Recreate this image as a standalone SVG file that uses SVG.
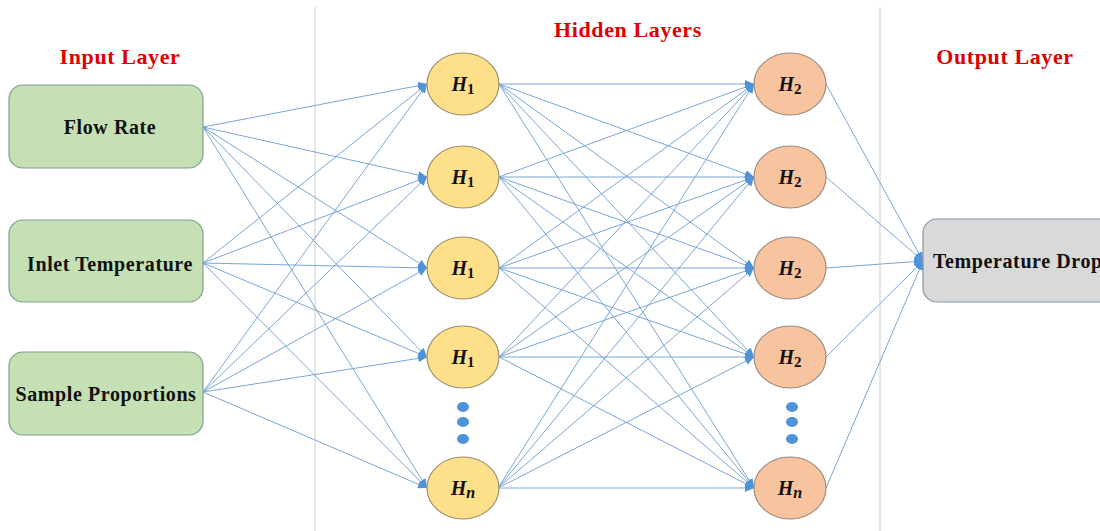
<svg xmlns="http://www.w3.org/2000/svg" width="1100" height="531" viewBox="0 0 1100 531">
<style>
.title{font-family:"Liberation Serif",serif;font-weight:bold;font-size:22px;letter-spacing:0.6px;fill:#e00000}
.lbl{font-family:"Liberation Serif",serif;font-weight:bold;font-size:20px;letter-spacing:0.6px;fill:#111}
.hn{font-family:"Liberation Serif",serif;font-weight:bold;font-style:italic;font-size:20px;fill:#111}
.in{fill:#c5e0b4;stroke:#7f9f8f;stroke-width:1.2}
.h1{fill:#ffe08a;stroke:#9a8f70;stroke-width:1.2}
.h2{fill:#f8c4a0;stroke:#9a8a80;stroke-width:1.2}
.out{fill:#d9d9d9;stroke:#8497b0;stroke-width:1.2}
.dot{fill:#4f93d8}
.sep{stroke:#dedede;stroke-width:1.5}
#connectors line{stroke:#7aa6d6;stroke-width:1;marker-end:url(#arr)}
</style>
<defs>
<marker id="arr" markerUnits="userSpaceOnUse" markerWidth="9" markerHeight="8" refX="9" refY="4" orient="auto">
<path d="M0,0 L9,4 L0,8 z" fill="#4f93d8"/>
</marker>
</defs>
<rect width="1100" height="531" fill="#fff"/>
<line class="sep" x1="315" y1="7" x2="315" y2="531"/>
<line class="sep" x1="880" y1="7" x2="880" y2="531"/>
<text class="title" x="120" y="64" text-anchor="middle">Input Layer</text>
<text class="title" x="628" y="37" text-anchor="middle">Hidden Layers</text>
<text class="title" x="1005" y="64" text-anchor="middle">Output Layer</text>
<g id="connectors">
<line x1="203" y1="127" x2="427" y2="84"/><line x1="203" y1="127" x2="427" y2="177"/><line x1="203" y1="127" x2="427" y2="268"/><line x1="203" y1="127" x2="427" y2="357"/><line x1="203" y1="127" x2="427" y2="488"/>
<line x1="203" y1="263" x2="427" y2="84"/><line x1="203" y1="263" x2="427" y2="177"/><line x1="203" y1="263" x2="427" y2="268"/><line x1="203" y1="263" x2="427" y2="357"/><line x1="203" y1="263" x2="427" y2="488"/>
<line x1="203" y1="392" x2="427" y2="84"/><line x1="203" y1="392" x2="427" y2="177"/><line x1="203" y1="392" x2="427" y2="268"/><line x1="203" y1="392" x2="427" y2="357"/><line x1="203" y1="392" x2="427" y2="488"/>
<line x1="499" y1="84" x2="754" y2="84"/><line x1="499" y1="84" x2="754" y2="177"/><line x1="499" y1="84" x2="754" y2="268"/><line x1="499" y1="84" x2="754" y2="357"/><line x1="499" y1="84" x2="754" y2="488"/>
<line x1="499" y1="177" x2="754" y2="84"/><line x1="499" y1="177" x2="754" y2="177"/><line x1="499" y1="177" x2="754" y2="268"/><line x1="499" y1="177" x2="754" y2="357"/><line x1="499" y1="177" x2="754" y2="488"/>
<line x1="499" y1="268" x2="754" y2="84"/><line x1="499" y1="268" x2="754" y2="177"/><line x1="499" y1="268" x2="754" y2="268"/><line x1="499" y1="268" x2="754" y2="357"/><line x1="499" y1="268" x2="754" y2="488"/>
<line x1="499" y1="357" x2="754" y2="84"/><line x1="499" y1="357" x2="754" y2="177"/><line x1="499" y1="357" x2="754" y2="268"/><line x1="499" y1="357" x2="754" y2="357"/><line x1="499" y1="357" x2="754" y2="488"/>
<line x1="498" y1="488" x2="754" y2="84"/><line x1="498" y1="488" x2="754" y2="177"/><line x1="498" y1="488" x2="754" y2="268"/><line x1="498" y1="488" x2="754" y2="357"/><line x1="498" y1="488" x2="754" y2="488"/>
<line x1="826" y1="84" x2="923" y2="261"/><line x1="826" y1="177" x2="923" y2="261"/><line x1="826" y1="268" x2="923" y2="261"/><line x1="826" y1="357" x2="923" y2="261"/><line x1="826" y1="488" x2="923" y2="261"/>
</g>
<g id="in-flow"><rect class="in" x="9" y="85" width="194" height="83" rx="14"/><text class="lbl" x="110" y="134" text-anchor="middle">Flow Rate</text></g>
<g id="in-inlet"><rect class="in" x="9" y="220" width="194" height="82" rx="14"/><text class="lbl" x="110" y="271" text-anchor="middle">Inlet Temperature</text></g>
<g id="in-sample"><rect class="in" x="9" y="352" width="194" height="83" rx="14"/><text class="lbl" x="106" y="401" text-anchor="middle">Sample Proportions</text></g>
<g id="h1a"><ellipse class="h1" cx="463" cy="84" rx="36" ry="31"/><text class="hn" x="463" y="91" text-anchor="middle">H<tspan font-size="15" font-style="normal" dy="3">1</tspan></text></g>
<g id="h1b"><ellipse class="h1" cx="463" cy="177" rx="36" ry="31"/><text class="hn" x="463" y="184" text-anchor="middle">H<tspan font-size="15" font-style="normal" dy="3">1</tspan></text></g>
<g id="h1c"><ellipse class="h1" cx="463" cy="268" rx="36" ry="31"/><text class="hn" x="463" y="275" text-anchor="middle">H<tspan font-size="15" font-style="normal" dy="3">1</tspan></text></g>
<g id="h1d"><ellipse class="h1" cx="463" cy="357" rx="36" ry="31"/><text class="hn" x="463" y="364" text-anchor="middle">H<tspan font-size="15" font-style="normal" dy="3">1</tspan></text></g>
<g id="h1dots"><ellipse class="dot" cx="463" cy="407" rx="6" ry="5"/><ellipse class="dot" cx="463" cy="422" rx="6" ry="5"/><ellipse class="dot" cx="463" cy="439" rx="6" ry="5"/></g>
<g id="h1n"><ellipse class="h1" cx="463" cy="488" rx="36" ry="31"/><text class="hn" x="463" y="495" text-anchor="middle">H<tspan font-size="16" dy="3">n</tspan></text></g>
<g id="h2a"><ellipse class="h2" cx="790" cy="84" rx="36" ry="31"/><text class="hn" x="790" y="91" text-anchor="middle">H<tspan font-size="15" font-style="normal" dy="3">2</tspan></text></g>
<g id="h2b"><ellipse class="h2" cx="790" cy="177" rx="36" ry="31"/><text class="hn" x="790" y="184" text-anchor="middle">H<tspan font-size="15" font-style="normal" dy="3">2</tspan></text></g>
<g id="h2c"><ellipse class="h2" cx="790" cy="268" rx="36" ry="31"/><text class="hn" x="790" y="275" text-anchor="middle">H<tspan font-size="15" font-style="normal" dy="3">2</tspan></text></g>
<g id="h2d"><ellipse class="h2" cx="790" cy="357" rx="36" ry="31"/><text class="hn" x="790" y="364" text-anchor="middle">H<tspan font-size="15" font-style="normal" dy="3">2</tspan></text></g>
<g id="h2dots"><ellipse class="dot" cx="792" cy="407" rx="6" ry="5"/><ellipse class="dot" cx="792" cy="422" rx="6" ry="5"/><ellipse class="dot" cx="792" cy="439" rx="6" ry="5"/></g>
<g id="h2n"><ellipse class="h2" cx="790" cy="488" rx="36" ry="31"/><text class="hn" x="790" y="495" text-anchor="middle">H<tspan font-size="16" dy="3">n</tspan></text></g>
<g id="out"><rect class="out" x="923" y="219" width="200" height="83" rx="14"/><text class="lbl" x="933" y="268">Temperature Drop</text></g>
</svg>
